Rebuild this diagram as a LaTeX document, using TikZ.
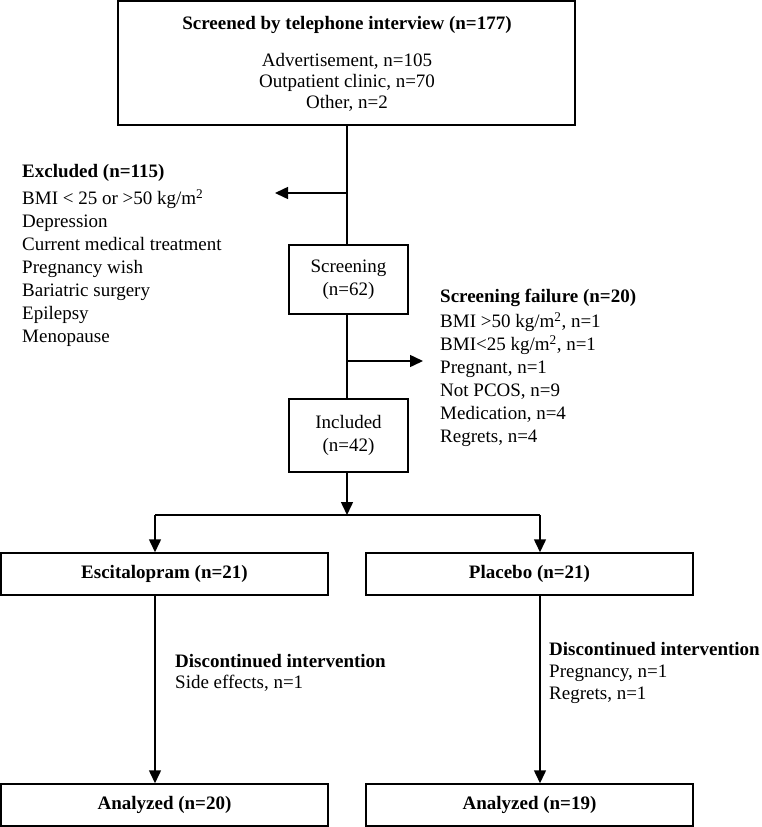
\documentclass[tikz,border=0pt]{standalone}
\usepackage{fontspec}
\setmainfont{Liberation Serif}
\usetikzlibrary{arrows.meta}
\begin{document}
\begin{tikzpicture}[x=1pt,y=-1pt,
  box/.style={draw, line width=1.5pt, inner sep=0pt, align=center},
  ctxt/.style={inner sep=0pt, align=center, font=\fontsize{19}{21}\selectfont},
  lst/.style={inner sep=0pt, align=left, anchor=north west, font=\fontsize{19}{23}\selectfont},
  ln/.style={line width=1.5pt},
  arr/.style={line width=1.5pt, -{Triangle[length=13pt,width=12pt]}}]
\useasboundingbox (0,0) rectangle (762,827);

% boxes
\node[box, minimum width=457pt, minimum height=124pt] (top) at (346.5,63) {};
\node[ctxt, font=\fontsize{19}{21}\selectfont\bfseries] (toptitle) at (347,25) {Screened by telephone interview (n=177)};
\node[ctxt] (toplist) at (347,82) {Advertisement, n=105\\Outpatient clinic, n=70\\Other, n=2};

\node[box, minimum width=119pt, minimum height=69pt, font=\fontsize{19}{23}\selectfont] (scr) at (348.5,279.5) {Screening\\(n=62)};
\node[box, minimum width=119pt, minimum height=73pt, font=\fontsize{19}{23}\selectfont] (inc) at (348.5,435.5) {Included\\(n=42)};

\node[box, minimum width=327pt, minimum height=42pt, font=\fontsize{19}{23}\selectfont\bfseries] (esc) at (164.5,574) {Escitalopram (n=21)};
\node[box, minimum width=327pt, minimum height=42pt, font=\fontsize{19}{23}\selectfont\bfseries] (pla) at (529.5,574) {Placebo (n=21)};
\node[box, minimum width=327pt, minimum height=42pt, font=\fontsize{19}{23}\selectfont\bfseries] (an1) at (164.5,805) {Analyzed (n=20)};
\node[box, minimum width=327pt, minimum height=42pt, font=\fontsize{19}{23}\selectfont\bfseries] (an2) at (529.5,805) {Analyzed (n=19)};

% side texts
\node[lst] (excl) at (22,164) {\textbf{Excluded (n=115)}\\[4pt]BMI < 25 or >50 kg/m\textsuperscript{2}\\Depression\\Current medical treatment\\Pregnancy wish\\Bariatric surgery\\Epilepsy\\Menopause};
\node[lst] (fail) at (440,289) {\textbf{Screening failure (n=20)}\\[2pt]BMI >50 kg/m\textsuperscript{2}, n=1\\BMI<25 kg/m\textsuperscript{2}, n=1\\Pregnant, n=1\\Not PCOS, n=9\\Medication, n=4\\Regrets, n=4};
\node[lst, font=\fontsize{19}{21}\selectfont] (disc1) at (175,654) {\textbf{Discontinued intervention}\\Side effects, n=1};
\node[lst, font=\fontsize{19}{22}\selectfont] (disc2) at (549,642) {\textbf{Discontinued intervention}\\Pregnancy, n=1\\Regrets, n=1};

% coordinates
\coordinate (jex) at (347,193);
\coordinate (exTip) at (275,193);
\coordinate (jfail) at (347,361);
\coordinate (failTip) at (423,361);
\coordinate (split) at (347,515);
\coordinate (lx) at (155,515);
\coordinate (rx) at (540,515);

% connectors
\draw[ln] (top.south -| jex) -- (scr.north -| jex);
\draw[arr] (jex) -- (exTip);
\draw[ln] (scr.south -| jfail) -- (inc.north -| jfail);
\draw[arr] (jfail) -- (failTip);
\draw[arr] (inc.south -| split) -- (split);
\draw[ln] (lx) -- (rx);
\draw[arr] (lx) -- (esc.north -| lx);
\draw[arr] (rx) -- (pla.north -| rx);
\draw[arr] (esc.south -| lx) -- (an1.north -| lx);
\draw[arr] (pla.south -| rx) -- (an2.north -| rx);
\end{tikzpicture}
\end{document}
